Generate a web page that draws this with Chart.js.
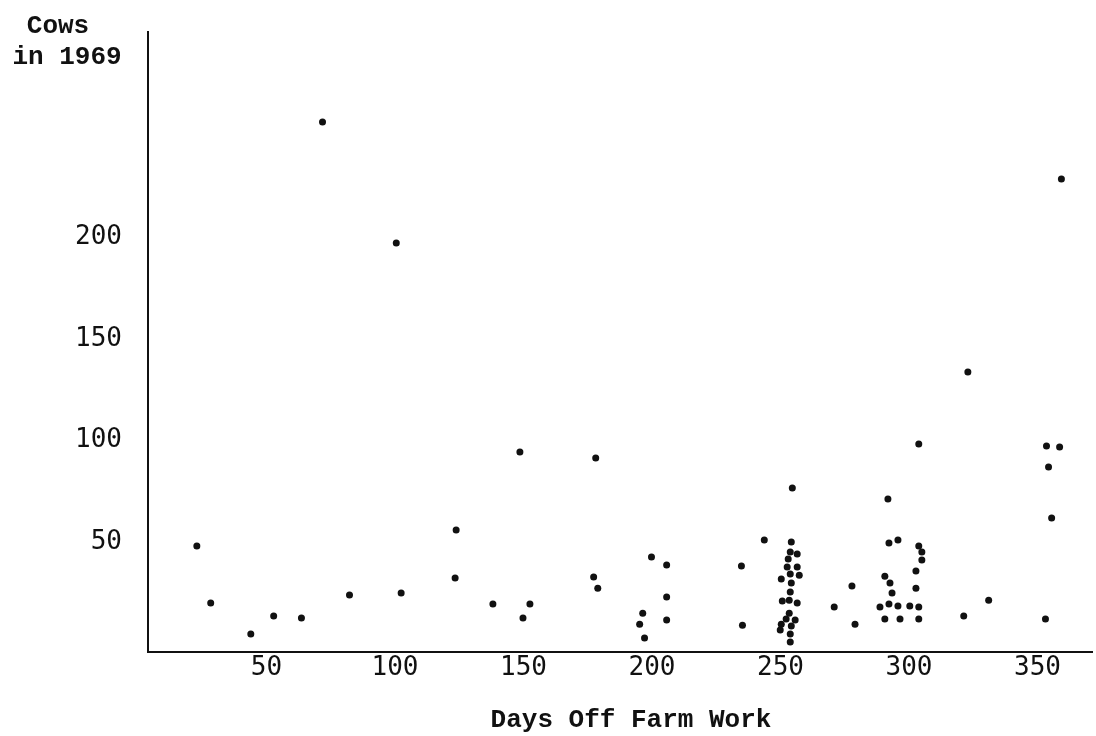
<!DOCTYPE html>
<html>
<head>
<meta charset="utf-8">
<script src="https://cdn.jsdelivr.net/npm/chart.js@4/dist/chart.umd.min.js"></script>
<style>
  html, body { margin: 0; padding: 0; background: #fff; }
  #wrap { width: 1096px; height: 736px; }
</style>
</head>
<body>
<div id="wrap"><canvas id="cows"></canvas></div>
<script>
// days off farm work (x) and cows in 1969 (y)
var days = [
    22.9, 28.3, 43.9, 52.8, 63.6, 82.3, 71.8, 100.5, 102.4, 123.8,
    123.4, 138.1, 148.6, 149.8, 152.5, 178.1, 177.3, 178.9, 199.8, 205.7,
    205.7, 205.7, 196.4, 195.2, 197.1, 234.8, 235.2, 243.7, 254.6, 254.2,
    253.8, 256.5, 253.0, 252.6, 256.5, 253.8, 257.3, 250.3, 254.2, 253.8,
    250.7, 253.4, 256.5, 253.4, 252.2, 255.7, 250.3, 254.2, 249.9, 253.8,
    253.8, 270.9, 277.8, 279.0, 291.8, 292.2, 295.7, 290.6, 292.6, 293.4,
    288.7, 292.2, 295.7, 290.6, 296.5, 300.3, 303.8, 303.8, 302.7, 302.7,
    303.8, 305.0, 305.0, 303.8, 322.9, 321.3, 331.0, 353.1, 355.5, 354.3,
    353.5, 358.6, 359.3
];
var cows = [
    48.2, 20.2, 4.9, 13.8, 12.8, 24.1, 256.8, 197.2, 25.1, 56.1,
    32.5, 19.7, 94.4, 12.8, 19.7, 91.5, 33.0, 27.5, 42.8, 38.9,
    23.1, 11.8, 15.2, 9.8, 3.0, 38.4, 9.3, 51.2, 76.7, 50.2,
    45.3, 44.3, 41.8, 37.9, 37.9, 34.4, 33.9, 32.0, 30.0, 25.6,
    21.2, 21.6, 20.2, 15.2, 12.3, 11.8, 9.8, 8.9, 6.9, 4.9,
    1.0, 18.2, 28.5, 9.8, 71.3, 49.7, 51.2, 33.4, 30.0, 25.1,
    18.2, 19.7, 18.7, 12.3, 12.3, 18.7, 18.2, 12.3, 27.5, 35.9,
    48.2, 45.3, 41.3, 98.4, 133.8, 13.8, 21.6, 12.3, 62.0, 87.1,
    97.4, 96.9, 228.7
];
var xTicks = [50, 100, 150, 200, 250, 300, 350];
var yTicks = [50, 100, 150, 200];

var points = days.map(function (d, i) { return { x: d, y: cows[i] }; });

var tickFont = { family: "'DejaVu Sans Mono', monospace", size: 26 };
var titleFont = "bold 26px 'Liberation Mono', 'Courier New', monospace";

// axis titles sit where the typist put them, not where chart.js would
var typedTitles = {
    id: 'typedTitles',
    afterDraw: function (chart) {
        var c = chart.ctx;
        c.save();
        c.fillStyle = '#111';
        c.font = titleFont;
        c.textAlign = 'center';
        c.textBaseline = 'middle';
        c.fillText('Cows', 58, 26);
        c.fillText('in 1969', 67, 57);
        c.fillText('Days Off Farm Work', 631, 720);
        c.restore();
    }
};

var ctx = document.getElementById('cows').getContext('2d');
var myChart = new Chart(ctx, {
    type: 'scatter',
    data: {
        datasets: [
            {
                data: points,
                backgroundColor: '#111',
                borderWidth: 0,
                pointRadius: 3.5,
                pointHoverRadius: 3.5
            }
        ]
    },
    options: {
        responsive: true,
        maintainAspectRatio: false,
        animation: false,
        events: [],
        layout: { padding: { top: 32, right: 1, left: 0, bottom: 0 } },
        plugins: {
            legend: { display: false },
            tooltip: { enabled: false }
        },
        scales: {
            x: {
                type: 'linear',
                min: 3.9,
                max: 371.4,
                grid: { display: false, drawTicks: false },
                border: { display: true, color: '#111', width: 2 },
                afterBuildTicks: function (scale) {
                    scale.ticks = xTicks.map(function (v) { return { value: v }; });
                },
                afterFit: function (scale) {
                    scale.height = 84;
                    scale.paddingLeft = 0;
                    scale.paddingRight = 0;
                },
                ticks: {
                    color: '#111',
                    font: tickFont,
                    padding: 1,
                    maxRotation: 0,
                    autoSkip: false
                }
            },
            y: {
                type: 'linear',
                min: -3.9,
                max: 301,
                grid: { display: false, drawTicks: false },
                border: { display: true, color: '#111', width: 2 },
                afterBuildTicks: function (scale) {
                    scale.ticks = yTicks.map(function (v) { return { value: v }; });
                },
                afterFit: function (scale) {
                    scale.width = 148;
                    // label padding should not push the plot down
                    scale.paddingTop = 0;
                    scale.paddingBottom = 0;
                },
                ticks: {
                    color: '#111',
                    font: tickFont,
                    padding: 26,
                    autoSkip: false
                }
            }
        }
    },
    plugins: [typedTitles]
});
</script>
</body>
</html>
